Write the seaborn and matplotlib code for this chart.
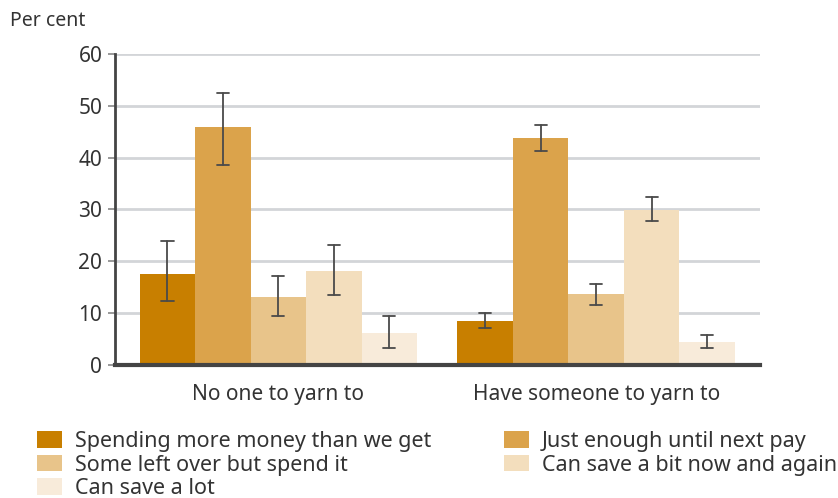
import numpy as np
import pandas as pd
import seaborn as sns
import matplotlib.pyplot as plt
from matplotlib.patches import Patch

groups = ["No one to yarn to", "Have someone to yarn to"]
categories = ["Spending more money than we get", "Just enough until next pay",
              "Some left over but spend it", "Can save a bit now and again",
              "Can save a lot"]
vals_none = [17.5, 45.8, 13.1, 18.1, 6.2]
vals_some = [8.5, 43.8, 13.7, 29.9, 4.4]
lo_none = [12.3, 38.6, 9.5, 13.5, 3.3]
hi_none = [23.9, 52.5, 17.2, 23.1, 9.5]
lo_some = [7.2, 41.2, 11.6, 27.8, 3.3]
hi_some = [10.0, 46.3, 15.6, 32.4, 5.8]
colors = ["#C87F00", "#DBA34B", "#E8C48A", "#F3DEBD", "#F8EBDA"]

rows = []
for g, vals in zip(groups, [vals_none, vals_some]):
    for c, v in zip(categories, vals):
        rows.append({"group": g, "cat": c, "value": v})
df = pd.DataFrame(rows)

sns.set_theme(style="white")
plt.rcParams["font.family"] = ["Noto Sans", "DejaVu Sans"]

fig = plt.figure(figsize=(8.38, 4.98), dpi=100)
ax = fig.add_axes([0.137, 0.267, 0.770, 0.625])

sns.barplot(data=df, x="group", y="value", hue="cat", order=groups,
            hue_order=categories, palette=colors, width=0.873, gap=0,
            errorbar=None, ax=ax, legend=False, saturation=1, zorder=2,
            linewidth=0, edgecolor="none")

# error bars positioned from the bar containers
cw = 0.019
for cont, ln, hn, ls, hs in zip(ax.containers, lo_none, hi_none, lo_some, hi_some):
    for bar, lo, hi in zip(cont, [ln, ls], [hn, hs]):
        xc = bar.get_x() + bar.get_width() / 2
        ax.plot([xc, xc], [lo, hi], color="#4a4a4a", lw=1.3, zorder=4)
        ax.plot([xc - cw, xc + cw], [lo, lo], color="#4a4a4a", lw=1.3, zorder=4)
        ax.plot([xc - cw, xc + cw], [hi, hi], color="#4a4a4a", lw=1.3, zorder=4)

ax.set_ylim(0, 60)
ax.set_xlim(-0.515, 1.516)
ax.set_yticks(range(0, 61, 10))
ax.yaxis.grid(True, color="#D3D5D8", lw=2, zorder=0)
ax.set_axisbelow(True)
ax.set_xlabel("")
ax.set_ylabel("")
for s in ["top", "right"]:
    ax.spines[s].set_visible(False)
ax.spines["left"].set_color("#444444")
ax.spines["left"].set_linewidth(2)
ax.spines["bottom"].set_color("#444444")
ax.spines["bottom"].set_linewidth(3)
ax.spines["bottom"].set_zorder(5)
ax.tick_params(axis="y", left=True, length=5, width=1.2, color="#888888",
               labelsize=15, labelcolor="#333333", pad=4)
ax.tick_params(axis="x", bottom=False, labelsize=15, labelcolor="#333333", pad=8)

fig.text(10 / 838, 1 - 21 / 498, "Per cent", fontsize=14, color="#333333",
         va="center", ha="left")

handles = [Patch(facecolor=c, edgecolor="none") for c in colors]
order = [0, 2, 4, 1, 3]
fig.legend([handles[i] for i in order], [categories[i] for i in order],
           loc="upper left", bbox_to_anchor=(37 / 838, 1 - 431 / 498), ncol=2,
           frameon=False, fontsize=15.5, handlelength=1.15, handleheight=0.82,
           handletextpad=0.6, columnspacing=3.4, labelspacing=0.12,
           labelcolor="#333333", borderaxespad=0, borderpad=0)

fig.savefig("out.png", dpi=100)
